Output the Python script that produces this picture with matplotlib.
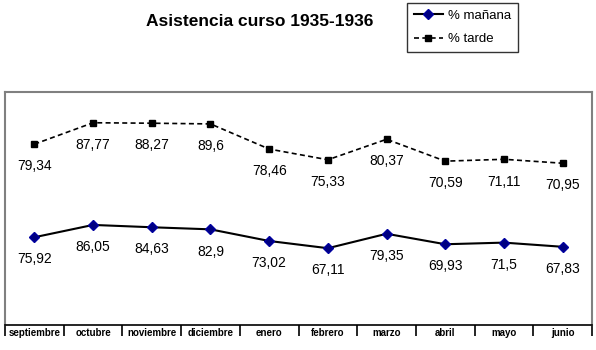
import numpy as np
import matplotlib.pyplot as plt

plt.rcParams['font.family'] = ['Liberation Sans', 'DejaVu Sans']

# meses del curso
meses = ['septiembre', 'octubre', 'noviembre', 'diciembre', 'enero',
         'febrero', 'marzo', 'abril', 'mayo', 'junio']

# porcentajes rotulados
pct_manana = ['75,92', '86,05', '84,63', '82,9', '73,02',
              '67,11', '79,35', '69,93', '71,5', '67,83']
pct_tarde = ['79,34', '87,77', '88,27', '89,6', '78,46',
             '75,33', '80,37', '70,59', '71,11', '70,95']

# altura de cada punto en el grafico original (escala 0-100 del area)
nivel_manana = [37.7, 43.0, 42.0, 41.1, 36.1, 33.0, 39.2, 34.7, 35.4, 33.6]
nivel_tarde = [77.7, 86.9, 86.7, 86.4, 75.6, 71.0, 79.8, 70.4, 71.2, 69.5]

fig = plt.figure(figsize=(5.96, 3.5), dpi=100)
ax = fig.add_axes([0.0084, 0.0714, 0.985, 0.665])

x = np.arange(len(meses))
ax.plot(x, nivel_manana, color='black', linewidth=1.5, marker='D',
        markersize=5, markerfacecolor='#000080', markeredgecolor='#0000a0',
        label='% mañana')
ax.plot(x, nivel_tarde, color='black', linewidth=1.2, linestyle=(0, (3, 2)),
        marker='s', markersize=4.5, markerfacecolor='black',
        markeredgecolor='black', label='% tarde')

# rotulos de datos debajo de cada punto
for i in range(len(meses)):
    ax.annotate(pct_manana[i], (x[i], nivel_manana[i]), xytext=(0, -16),
                textcoords='offset points', ha='center', va='center', fontsize=10)
    ax.annotate(pct_tarde[i], (x[i], nivel_tarde[i]), xytext=(0, -16),
                textcoords='offset points', ha='center', va='center', fontsize=10)

ax.set_xlim(-0.5, len(meses) - 0.5)
ax.set_ylim(0, 100)
ax.set_yticks([])

# marcas entre categorias, nombres centrados
ax.set_xticks(np.arange(-0.5, len(meses), 1), minor=True)
ax.set_xticks(x)
ax.set_xticklabels(meses, fontsize=7, fontweight='bold')
ax.tick_params(axis='x', which='minor', direction='out', length=8, width=1.2, color='black')
ax.tick_params(axis='x', which='major', length=0, pad=2.5)

for s in ['left', 'top', 'right']:
    ax.spines[s].set_color('#808080')
    ax.spines[s].set_linewidth(1.5)
ax.spines['bottom'].set_color('black')
ax.spines['bottom'].set_linewidth(1.2)

fig.text(0.436, 0.938, 'Asistencia curso 1935-1936', ha='center', va='center',
         fontsize=12.5, fontweight='bold')

leg = fig.legend(loc='upper left', bbox_to_anchor=(0.683, 0.991), fontsize=9.5,
                 frameon=True, fancybox=False, edgecolor='black',
                 handlelength=2.2, borderpad=0.5, labelspacing=0.85,
                 handletextpad=0.4, borderaxespad=0)
leg.get_frame().set_linewidth(1.0)

plt.savefig('out.png', dpi=100)
plt.close()
